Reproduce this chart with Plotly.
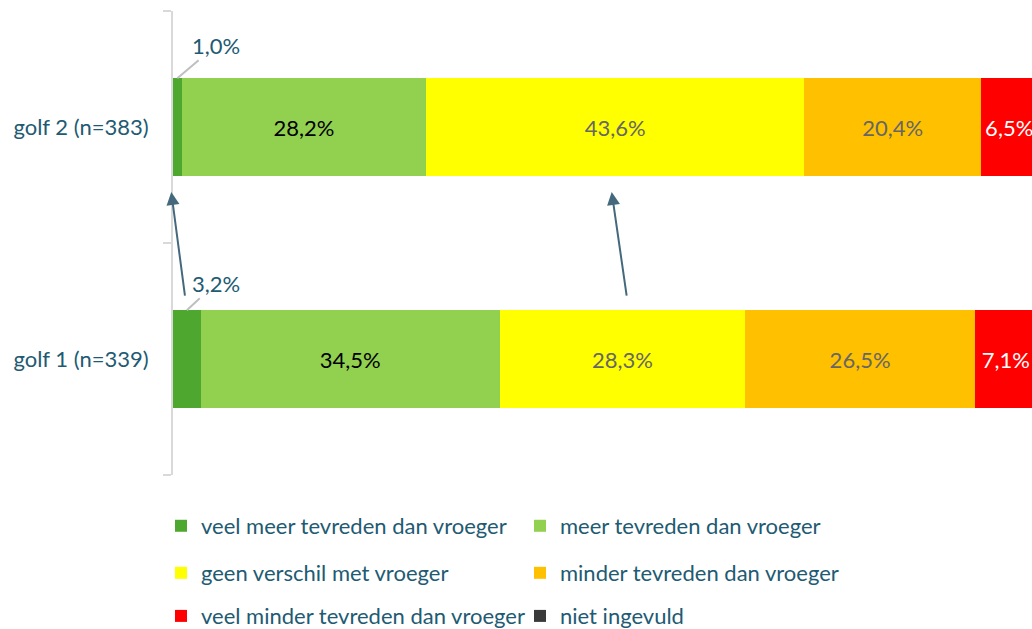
import plotly.graph_objects as go

categories = ["golf 1 (n=339)", "golf 2 (n=383)"]
series_names = [
    "veel meer tevreden dan vroeger",
    "meer tevreden dan vroeger",
    "geen verschil met vroeger",
    "minder tevreden dan vroeger",
    "veel minder tevreden dan vroeger",
    "niet ingevuld",
]
veel_meer = [3.2, 1.0]
meer = [34.5, 28.2]
geen = [28.3, 43.6]
minder = [26.5, 20.4]
veel_minder = [7.1, 6.5]
niet = [0.4, 0.3]
values = [veel_meer, meer, geen, minder, veel_minder, niet]

colors = ["#4ea72e", "#92d050", "#ffff00", "#ffc000", "#ff0000", "#3a3a3a"]
text_colors = ["#000000", "#000000", "#666666", "#666666", "#ffffff", "#ffffff"]
show_label = [False, True, True, True, True, False]
legend_ids = ["legend", "legend", "legend2", "legend2", "legend3", "legend3"]

TEAL = "#215a72"
FONT = "Lato"
FS = 22

def fmt(v):
    return f"{v:.1f}%".replace(".", ",")

fig = go.Figure()
for name, vals, col, tcol, lab, lg in zip(series_names, values, colors, text_colors, show_label, legend_ids):
    fig.add_trace(go.Bar(
        y=categories, x=vals, name=name, orientation="h",
        marker=dict(color=col, line=dict(width=0)),
        text=[fmt(v) for v in vals] if lab else None,
        textposition="inside", insidetextanchor="middle", textangle=0,
        constraintext="none",
        textfont=dict(color=tcol, size=FS, family=FONT),
        legend=lg, hoverinfo="skip",
    ))

bargap = 0.58
half = (1 - bargap) / 2

# outside labels for the small first segments (index 0 = golf 1, 1 = golf 2)
for i, off in zip(range(2), [(29, -27), (39, -33)]):
    v = veel_meer[i]
    fig.add_annotation(
        x=v / 2, y=i + half, xref="x", yref="y", text=fmt(v),
        showarrow=True, arrowhead=0, arrowwidth=2, arrowcolor="#bfbfbf",
        ax=off[0], ay=off[1], font=dict(color=TEAL, size=FS, family=FONT),
        standoff=0,
    )

# arrows golf 1 -> golf 2
ARROW = "#44697d"
fig.add_annotation(
    x=veel_meer[1] / 2 - 0.7, y=1 - 0.28, xref="x", yref="y",
    ax=veel_meer[0] / 2 - 0.2, ay=0.267, axref="x", ayref="y",
    showarrow=True, arrowhead=2, arrowsize=1.3, arrowwidth=2, arrowcolor=ARROW, text="",
)
mid2 = veel_meer[1] + meer[1] + geen[1] / 2
mid1 = veel_meer[0] + meer[0] + geen[0] / 2
fig.add_annotation(
    x=mid2 - 0.4, y=1 - 0.28, xref="x", yref="y",
    ax=mid1 + 0.5, ay=0.267, axref="x", ayref="y",
    showarrow=True, arrowhead=2, arrowsize=1.3, arrowwidth=2, arrowcolor=ARROW, text="",
)

legend_common = dict(
    orientation="h", entrywidth=314, entrywidthmode="pixels",
    font=dict(color=TEAL, size=FS, family=FONT),
    xanchor="left", yanchor="middle", bgcolor="rgba(0,0,0,0)",
    traceorder="normal", xref="container", yref="container",
)

fig.update_layout(
    barmode="stack", bargap=bargap,
    width=1032, height=629,
    margin=dict(l=173, r=0, t=11, b=154, autoexpand=False),
    plot_bgcolor="white", paper_bgcolor="white",
    font=dict(family=FONT, color=TEAL),
    xaxis=dict(range=[0, 99.08], showgrid=False, showticklabels=False,
               zeroline=False, showline=False, fixedrange=True, automargin=False),
    yaxis=dict(range=[-0.5, 1.5], showgrid=False, zeroline=False, automargin=False,
               showline=True, linecolor="#d9d9d9", linewidth=2,
               ticks="outside", ticklen=8, tickcolor="#d9d9d9", tickwidth=2,
               tickson="boundaries", ticklabelstandoff=18,
               tickfont=dict(color=TEAL, size=FS, family=FONT)),
    legend=dict(x=0.156, y=0.1638, **legend_common),
    legend2=dict(x=0.156, y=0.0890, **legend_common),
    legend3=dict(x=0.156, y=0.0205, **legend_common),
    showlegend=True,
)

fig.write_html(
    "out.html",
    config={"displayModeBar": False},
    post_script="document.body.style.margin='0';document.body.style.overflow='hidden';",
)
